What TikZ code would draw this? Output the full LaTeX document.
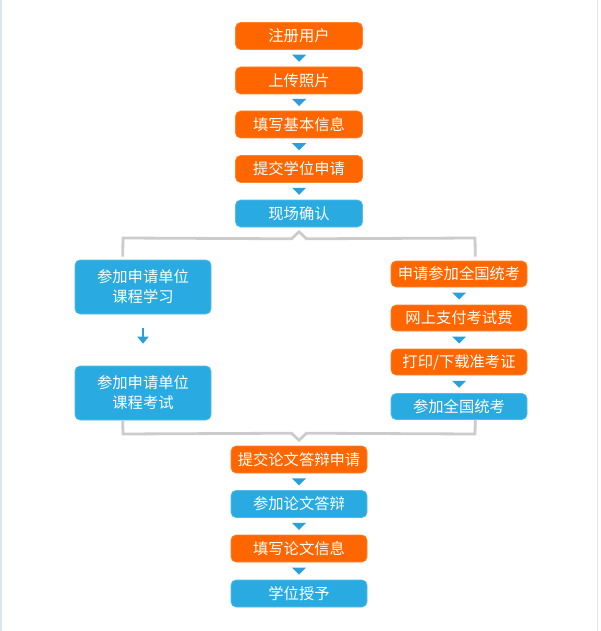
\documentclass[tikz,border=0pt]{standalone}
\usepackage{fontspec}
\newfontfamily\cjk{Noto Sans CJK SC}
\usetikzlibrary{calc,arrows.meta}
\definecolor{orangeC}{HTML}{FF6600}
\definecolor{blueC}{HTML}{29ABE2}
\definecolor{triC}{HTML}{2A9FDA}
\definecolor{grayC}{HTML}{CCCCCC}
\definecolor{edgeC}{HTML}{DCE5EE}
\tikzset{
  box/.style={rounded corners=5pt, text=white, font=\cjk\fontsize{15.3}{20}\selectfont,
    inner sep=0pt, align=center, minimum height=27pt},
  narrow/.style={minimum width=127pt},
  wide/.style={minimum width=136pt},
  org/.style={box, fill=orangeC, draw=orangeC!80!white, line width=0.6pt},
  blu/.style={box, fill=blueC, draw=blueC!80!white, line width=0.6pt},
  bracket/.style={draw=grayC, line width=2.8pt},
}
\newcommand{\downtri}[2]{%
  \fill[triC] ($(#1.south)!0.5!(#2.north)$) +(-7,-3.5) -- +(7,-3.5) -- +(0,3.5) -- cycle;}
\begin{document}
\begin{tikzpicture}[x=1pt,y=-1pt]
\useasboundingbox (0,0) rectangle (600,631);
\fill[white] (0,0) rectangle (600,631);
\draw[edgeC, line width=1.5pt] (0.75,0) -- (0.75,631);
\draw[edgeC, line width=1.5pt] (597.5,0) -- (597.5,631);

% top column
\node[org, narrow] (a1) at (299,36) {注册用户};
\node[org, narrow] (a2) at (299,80.5) {上传照片};
\node[org, narrow] (a3) at (299,124.5) {填写基本信息};
\node[org, narrow] (a4) at (299,169) {提交学位申请};
\node[blu, narrow] (a5) at (299,213.5) {现场确认};
\downtri{a1}{a2}
\downtri{a2}{a3}
\downtri{a3}{a4}
\downtri{a4}{a5}

% left branch
\node[blu, wide, minimum height=54pt] (l1) at (143,287) {参加申请单位\\课程学习};
\node[blu, wide, minimum height=54pt] (l2) at (143,393) {参加申请单位\\课程考试};
\draw[triC, line width=2.5pt, -{Triangle[width=11pt,length=7pt]}]
  ($(l1.south)+(0,14)$) -- ($(l2.north)+(0,-22)$);

% right branch
\node[org, wide, minimum height=26pt] (r1) at (459,274) {申请参加全国统考};
\node[org, wide, minimum height=26pt] (r2) at (459,318) {网上支付考试费};
\node[org, wide, minimum height=26pt] (r3) at (459,362) {打印/下载准考证};
\node[blu, wide, minimum height=26pt] (r4) at (459,406.5) {参加全国统考};
\downtri{r1}{r2}
\downtri{r2}{r3}
\downtri{r3}{r4}

% bottom column
\node[org, wide] (b1) at (299,459.5) {提交论文答辩申请};
\node[blu, wide] (b2) at (299,504) {参加论文答辩};
\node[org, wide] (b3) at (299,548.5) {填写论文信息};
\node[blu, wide] (b4) at (299,593.5) {学位授予};
\downtri{b1}{b2}
\downtri{b2}{b3}
\downtri{b3}{b4}

% brackets
\coordinate (tl) at ($(l1.north west)+(48,-3)$);
\coordinate (tr) at ($(r1.north east)+(-52,-4)$);
\draw[bracket, line join=miter] (tl) -- (123,238) -- ($(a5.south)+(-7.5,11.5)$)
  -- ($(a5.south)+(0,4.5)$) -- ($(a5.south)+(7.5,11.5)$) -- (475,238) -- (tr);
\coordinate (bl) at ($(l2.south west)+(48,0)$);
\coordinate (br) at ($(r4.south east)+(-52,0)$);
\draw[bracket, line join=miter] (bl) -- (123,434) -- ($(b1.north)+(-7.5,-12.5)$)
  -- ($(b1.north)+(0,-5.5)$) -- ($(b1.north)+(7.5,-12.5)$) -- (475,434) -- (br);
\end{tikzpicture}
\end{document}
